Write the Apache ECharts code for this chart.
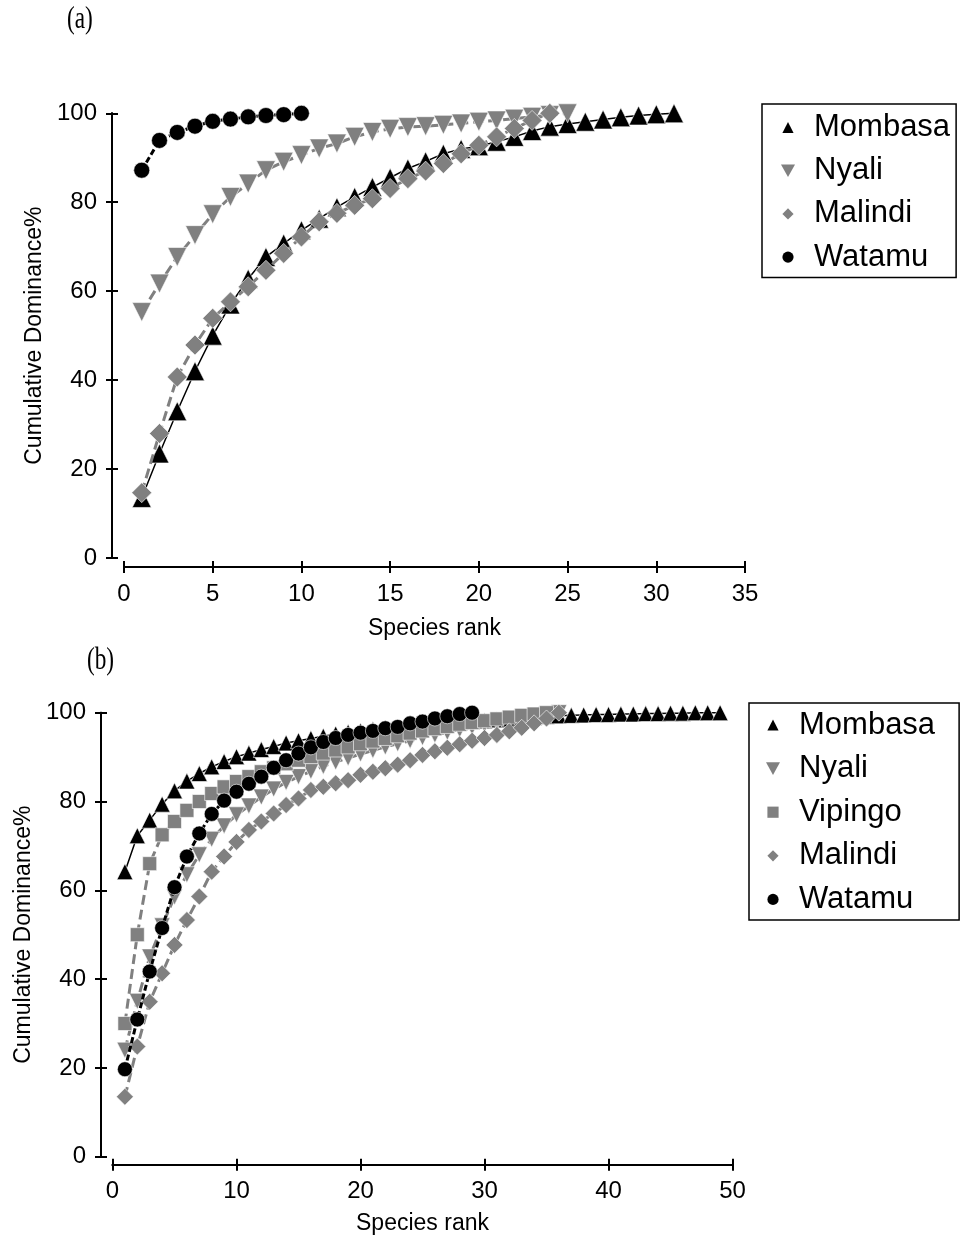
<!DOCTYPE html>
<html>
<head>
<meta charset="utf-8">
<script src="https://cdn.jsdelivr.net/npm/echarts@6/dist/echarts.min.js"></script>
<style>
  html, body { margin: 0; padding: 0; background: #fff; }
  #chart { width: 964px; height: 1241px; }
</style>
</head>
<body>
<div id="chart"></div>
<script>
// Cumulative dominance (%) by species rank, panel (a)
const aMombasa = [13.5, 23.5, 33, 42, 50, 57, 62.8, 67.7, 70.7, 73.7, 76.3, 78.9, 81.2, 83.4, 85.5, 87.6, 89.2, 90.9, 92, 92.6, 93.6, 94.7, 96, 97, 97.6, 98.1, 98.6, 99.1, 99.5, 99.8, 100];
const aNyali = [55.3, 61.7, 67.7, 72.6, 77.3, 81.2, 84.2, 87.2, 89.1, 90.6, 92.1, 93.2, 94.7, 95.8, 96.5, 96.9, 97.1, 97.4, 97.7, 98.1, 98.4, 98.8, 99.2, 99.6, 100];
const aMalindi = [14.7, 28, 40.7, 47.9, 53.9, 57.6, 61, 64.7, 68.5, 72.2, 75.6, 77.5, 79.3, 80.8, 83.1, 85.3, 87, 88.7, 90.9, 92.8, 94.7, 96.6, 98.4, 100];
const aWatamu = [87.2, 93.9, 95.7, 97.1, 98.2, 98.7, 99.2, 99.5, 99.7, 100];

// Panel (b)
const bMombasa = [64.2, 72.3, 75.8, 79.4, 82.4, 84.6, 86.3, 87.8, 89, 90.1,
  90.9, 91.7, 92.4, 93.2, 93.7, 94.2, 94.7, 95.2, 95.6, 95.9,
  96.2, 96.5, 96.8, 97, 97.2, 97.4, 97.6, 97.8, 98, 98.2,
  98.4, 98.6, 98.8, 99, 99.2, 99.3, 99.4, 99.5, 99.6, 99.6,
  99.7, 99.7, 99.8, 99.8, 99.9, 99.9, 100, 100, 100];
const bNyali = [24, 35, 45, 52, 58.5, 63.5, 68, 71.5, 74.5, 77,
  79, 81, 82.8, 84.3, 85.6, 86.8, 87.9, 88.9, 89.8, 90.7,
  91.5, 92.3, 93, 93.7, 94.4, 95, 95.6, 96.2, 96.8, 97.4,
  97.9, 98.4, 98.9, 99.3, 99.7, 100];
const bVipingo = [30, 50, 66, 72.5, 75.5, 78, 80, 81.8, 83.3, 84.5,
  85.6, 86.7, 87.6, 88.5, 89.3, 90.1, 90.9, 91.6, 92.3, 93,
  93.6, 94.2, 94.8, 95.4, 95.9, 96.4, 96.9, 97.4, 97.8, 98.2,
  98.6, 99, 99.4, 99.7, 100];
const bMalindi = [13.5, 24.8, 34.9, 41.3, 47.7, 53.3, 58.6, 64.2, 67.6, 70.9,
  73.6, 75.5, 77.3, 79.2, 80.7, 82.6, 83.3, 84.1, 84.8, 86,
  86.7, 87.5, 88.3, 89.3, 90.5, 91.3, 92.1, 92.9, 93.7, 94.3,
  95, 95.8, 96.6, 97.6, 98.7, 100];
const bWatamu = [19.7, 30.9, 41.7, 51.5, 60.7, 67.6, 72.8, 77.2, 80.2, 82.2,
  84, 85.6, 87.6, 89.3, 90.8, 92.2, 93.4, 94.3, 95, 95.5,
  95.9, 96.5, 96.8, 97.6, 98, 98.7, 99.2, 99.7, 100];

const legendA = ['Mombasa', 'Nyali', 'Malindi', 'Watamu'];
const legendB = ['Mombasa', 'Nyali', 'Vipingo', 'Malindi', 'Watamu'];

const FONT = '"Liberation Sans", Arial, sans-serif';
const SERIF = '"Liberation Serif", "Times New Roman", serif';
const GRAY = '#808080';
const DOWN_TRI = 'path://M0,0L10,0L5,9Z';

// ranks start at 1
const toPairs = arr => arr.map((v, i) => [i + 1, v]);

const styles = {
  Mombasa: { symbol: 'triangle', rotate: 0, color: '#000', lineType: 'solid', lineWidth: 1.5 },
  Nyali:   { symbol: 'triangle', rotate: 180, color: GRAY, lineType: [10, 5], lineWidth: 3 },
  Vipingo: { symbol: 'rect', rotate: 0, color: GRAY, lineType: [10, 5], lineWidth: 3 },
  Malindi: { symbol: 'diamond', rotate: 0, color: GRAY, lineType: [10, 5], lineWidth: 3 },
  Watamu:  { symbol: 'circle', rotate: 0, color: '#000', lineType: [6, 3], lineWidth: 3 }
};

function makeSeries(name, values, axisIndex, size, z) {
  const s = styles[name];
  return {
    name: name,
    type: 'line',
    xAxisIndex: axisIndex,
    yAxisIndex: axisIndex,
    data: toPairs(values),
    symbol: s.symbol,
    symbolRotate: s.rotate,
    symbolSize: size,
    showAllSymbol: true,
    clip: false,
    z: z,
    color: s.color,
    lineStyle: { color: s.color, width: s.lineWidth, type: s.lineType },
    itemStyle: { color: s.color, borderColor: '#fff', borderWidth: 0.6, opacity: 1 },
    emphasis: { disabled: true },
    animation: false
  };
}

const tickLabel = { fontFamily: FONT, fontSize: 24, color: '#000' };

function valueAxis(opts) {
  return Object.assign({
    type: 'value',
    axisLine: { show: true, onZero: false, lineStyle: { color: '#000', width: 2 } },
    splitLine: { show: false },
    axisTick: { show: true, length: 6, lineStyle: { color: '#000', width: 2 } },
    axisLabel: Object.assign({ margin: 15 }, tickLabel)
  }, opts);
}

// a pair of axes per side so that the tick marks cross the axis line
function axisPair(dim, gridIndex, min, max, interval, offset, name, nameGap) {
  const pos = dim === 'x' ? 'bottom' : 'left';
  const main = valueAxis({
    gridIndex: gridIndex, min: min, max: max, interval: interval, offset: offset, position: pos,
    name: name, nameLocation: 'middle', nameGap: nameGap,
    nameTextStyle: { fontFamily: FONT, fontSize: 23, color: '#000' }
  });
  const inner = valueAxis({
    gridIndex: gridIndex, min: min, max: max, interval: interval, offset: offset, position: pos,
    axisTick: { show: true, inside: true, length: 6, lineStyle: { color: '#000', width: 2 } },
    axisLabel: { show: false }
  });
  return [main, inner];
}

const xA = axisPair('x', 0, 0, 35, 5, 9, 'Species rank', 50);
const yA = axisPair('y', 0, 0, 100, 20, 12, 'Cumulative Dominance%', 54);
const xB = axisPair('x', 1, 0, 50, 10, 8, 'Species rank', 47);
const yB = axisPair('y', 1, 0, 100, 20, 11.5, 'Cumulative Dominance%', 57);

function legendData(names) {
  return names.map(n => n === 'Nyali' ? { name: n, icon: DOWN_TRI } : { name: n });
}

function legendBox(names, left, top, padding, gap) {
  return {
    orient: 'vertical',
    left: left, top: top,
    data: legendData(names),
    selectedMode: false,
    itemWidth: 14, itemHeight: 14,
    itemGap: gap,
    padding: padding,
    borderColor: '#000', borderWidth: 1.5,
    backgroundColor: '#fff',
    itemStyle: { borderWidth: 0 },
    lineStyle: { opacity: 0 },
    textStyle: { fontFamily: FONT, fontSize: 31, color: '#000', lineHeight: 30, padding: [0, 0, 0, 14] }
  };
}

const chart = echarts.init(document.getElementById('chart'), null, { renderer: 'canvas' });

chart.setOption({
  animation: false,
  backgroundColor: '#fff',
  graphic: [
    { type: 'text', left: 67, top: 4, scaleX: 0.75, style: { text: '(a)', font: '31px ' + SERIF, fill: '#000' } },
    { type: 'text', left: 87, top: 645, scaleX: 0.75, style: { text: '(b)', font: '31px ' + SERIF, fill: '#000' } }
  ],
  grid: [
    { left: 124, top: 113.3, width: 621, height: 444.7, containLabel: false },
    { left: 112.5, top: 712.7, width: 620, height: 444, containLabel: false }
  ],
  xAxis: [xA[0], xB[0], xA[1], xB[1]],
  yAxis: [yA[0], yB[0], yA[1], yB[1]],
  legend: [
    legendBox(legendA, 762, 104, [8, 6, 5, 18], 12.2),
    legendBox(legendB, 749, 703, [6.5, 24, 5, 16], 12.6)
  ],
  series: [
    makeSeries('Mombasa', aMombasa, 0, 19, 2),
    makeSeries('Nyali', aNyali, 0, 19, 3),
    makeSeries('Malindi', aMalindi, 0, 20, 4),
    makeSeries('Watamu', aWatamu, 0, 16, 5),
    makeSeries('Mombasa', bMombasa, 1, 16, 2),
    makeSeries('Nyali', bNyali, 1, 16, 3),
    makeSeries('Vipingo', bVipingo, 1, 14, 4),
    makeSeries('Malindi', bMalindi, 1, 17, 5),
    makeSeries('Watamu', bWatamu, 1, 15, 6)
  ]
});
</script>
</body>
</html>
